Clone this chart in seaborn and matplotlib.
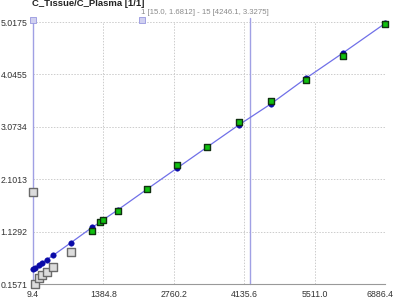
import numpy as np
import pandas as pd
import matplotlib
matplotlib.use("Agg")
import matplotlib.pyplot as plt
import matplotlib.transforms as mtransforms
import seaborn as sns

# ---- data ----
excl_x = [9.4, 48, 127, 191, 277, 406, 745]
excl_y = [1.87, 0.157, 0.263, 0.324, 0.385, 0.467, 0.756]

incl_x = [1168, 1318, 1383, 1664, 2243, 2829, 3415, 4034, 4659, 5337, 6060, 6886.4]
incl_y = [1.146, 1.302, 1.340, 1.517, 1.914, 2.365, 2.693, 3.168, 3.558, 3.942, 4.387, 4.985]

model_x = [9.4, 48, 127, 191, 277, 406, 745, 1168, 1318, 1383, 1664, 2243,
           2829, 3415, 4034, 4659, 5337, 6060, 6886.4]
model_y = [0.43, 0.46, 0.51, 0.55, 0.61, 0.69, 0.92, 1.21, 1.30, 1.35, 1.53, 1.92,
           2.31, 2.70, 3.11, 3.50, 3.97, 4.44, 4.99]

x_ticks = [9.4, 1384.8, 2760.2, 4135.6, 5511.0, 6886.4]
y_ticks = [0.1571, 1.1292, 2.1013, 3.0734, 4.0455, 5.0175]

cursor_x = [15.0, 4246.1]
title = "C_Tissue/C_Plasma [1/1]"
range_label = "1 [15.0, 1.6812] - 15 [4246.1, 3.3275]"

# ---- figure ----
sns.set_style("white")
plt.rcParams['font.family'] = ['Liberation Sans', 'DejaVu Sans']

W, H = 394, 304
fig = plt.figure(figsize=(W / 100, H / 100), dpi=100)
L, R, T, B = 33, 385, 22, 284
ax = fig.add_axes([L / W, 1 - B / H, (R - L) / W, (B - T) / H])

ax.set_xlim(x_ticks[0], x_ticks[-1])
ax.set_ylim(y_ticks[0], y_ticks[-1])

ax.set_xticks(x_ticks)
ax.set_xticklabels([f"{v:.1f}" for v in x_ticks])
ax.set_yticks(y_ticks)
ax.set_yticklabels([f"{v:.4f}" for v in y_ticks])
ax.tick_params(axis='both', labelsize=6.3, colors='#333333', length=2, width=0.6,
               pad=2, direction='out')
ax.tick_params(axis='x', color='#999999')
ax.tick_params(axis='y', color='#999999')

# keep the last x label inside the figure
lab = ax.get_xticklabels()[-1]
lab.set_transform(lab.get_transform() +
                  mtransforms.ScaledTranslation(-5 / 100, 0, fig.dpi_scale_trans))

ax.grid(True, color='#cccccc', linestyle=(0, (1.5, 1.5)), linewidth=0.7)
ax.set_axisbelow(True)
for s in ['top', 'right']:
    ax.spines[s].set_visible(False)
ax.spines['bottom'].set_color('#999999')
ax.spines['bottom'].set_linewidth(0.8)
ax.spines['left'].set_visible(False)

# cursor lines
for cx in cursor_x:
    ax.plot([cx, cx], [y_ticks[0], y_ticks[-1] + 0.08], color='#a0a0e4',
            linewidth=1.0, clip_on=False, zorder=1)
# handles
hx = [cursor_x[0], (cursor_x[0] + cursor_x[1]) / 2]
ax.scatter(hx, [y_ticks[-1] + 0.04] * 2, marker='s', s=14, color='#d0d0f0',
           edgecolor='#9898e0', linewidth=0.6, clip_on=False, zorder=2)

# model line and points
mdf = pd.DataFrame({'x': model_x, 'y': model_y})
sns.lineplot(data=mdf, x='x', y='y', ax=ax, color='#7070e8', linewidth=0.9,
             sort=True, estimator=None, zorder=3)
sns.scatterplot(data=mdf, x='x', y='y', ax=ax, color='#0a0aa8', s=16,
                edgecolor='#0a0aa8', linewidth=0.3, zorder=4, clip_on=False)

# excluded points
edf = pd.DataFrame({'x': excl_x, 'y': excl_y})
sns.scatterplot(data=edf, x='x', y='y', ax=ax, marker='s', s=26, color='#dcdcdc',
                edgecolor='#6a6a6a', linewidth=1.0, zorder=5, clip_on=False)

# included points
idf = pd.DataFrame({'x': incl_x, 'y': incl_y})
sns.scatterplot(data=idf, x='x', y='y', ax=ax, marker='s', s=20, color='#10c010',
                edgecolor='#103010', linewidth=1.0, zorder=6, clip_on=False)

ax.set_xlabel('')
ax.set_ylabel('')

fig.text(32 / W, 1 - 6 / H, title, fontsize=6.8, fontweight='bold',
         color='#222222', ha='left', va='baseline')
fig.text(205 / W, 1 - 12 / H, range_label, fontsize=5.6, color='#8a8a8a',
         ha='center', va='center')

fig.savefig("out.png", dpi=100, facecolor='white')
